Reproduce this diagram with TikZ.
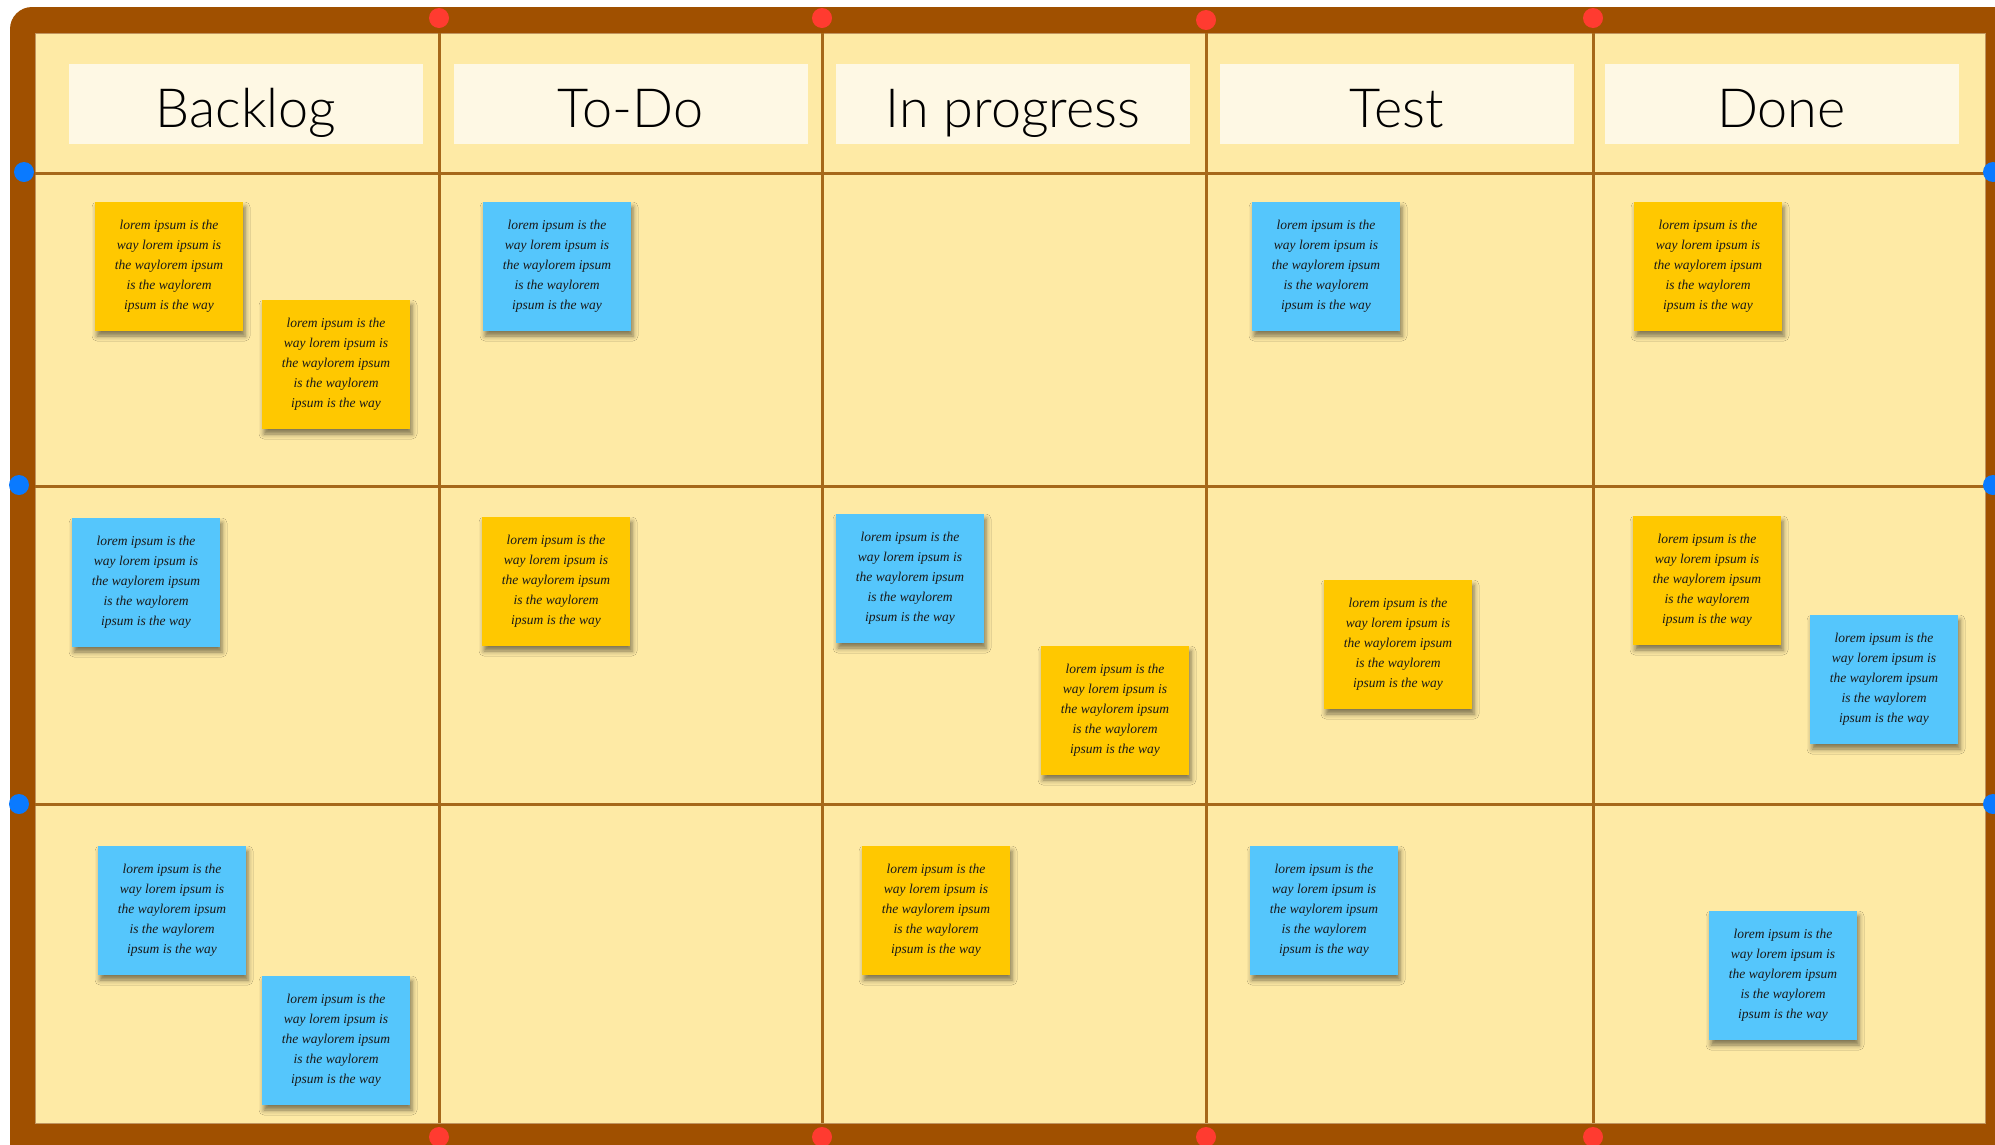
\documentclass[tikz,border=0pt]{standalone}
\usepackage{fontspec}
\newfontfamily\headfont{Lato}[UprightFont=* Light]
\newfontfamily\notefont{Liberation Serif}
\usetikzlibrary{shadows}
\usetikzlibrary{shadows.blur}

\definecolor{frame brown}{RGB}{160,80,0}
\definecolor{board cream}{RGB}{254,234,165}
\definecolor{head cream}{RGB}{254,248,228}
\definecolor{grid brown}{RGB}{166,104,26}
\definecolor{note yellow}{RGB}{255,200,0}
\definecolor{note blue}{RGB}{85,198,252}
\definecolor{pin red}{RGB}{255,59,48}
\definecolor{pin blue}{RGB}{10,122,255}

% The text that goes on every card
\newcommand\loremtext{lorem ipsum is the\\way lorem ipsum is\\the waylorem ipsum\\is the waylorem\\ipsum is the way}

\tikzset{
    % Lines that split the board into columns and rows
    grid line/.style={draw=grid brown, line width=3pt},
%
    % Pale heading card at the top of each column
    column head/.style={
        fill=head cream, inner sep=0, anchor=base,
        minimum width=354pt, text height=63pt, text depth=17pt,
        font=\headfont\fontsize{54}{60}\selectfont},
%
    % A sticky note, coloured by the two styles below
    sticky/.style={
        inner sep=0, align=center,
        minimum width=148pt, minimum height=129pt,
        text=black!90, font=\notefont\fontsize{13.5}{20}\selectfont\itshape,
        blur shadow={shadow xshift=2pt, shadow yshift=-5pt,
            shadow blur radius=5pt, shadow opacity=50}},
    yellow note/.style={sticky, fill=note yellow},
    blue note/.style={sticky, fill=note blue}}

\begin{document}
\begin{tikzpicture}[x=1pt, y=-1pt]
\useasboundingbox (0,0) rectangle (1995,1144);
\clip (0,0) rectangle (1995,1144);

% Brown frame with the board inside it
\fill[frame brown, rounded corners=22pt] (10,7) rectangle (2040,1180);
\fill[board cream, draw=grid brown!70, line width=1pt] (35,33) rectangle (1985,1123);

% Columns and rows
\foreach \x in {439,822,1206,1593}
    \draw[grid line] (\x,33) -- (\x,1123);
\foreach \y in {173,486,804}
    \draw[grid line] (35,\y) -- (1985,\y);

% Pins on the frame
\foreach \x/\yt in {439/18, 822/18, 1206/20, 1593/18}
    {\fill[pin red] (\x,\yt) circle (10pt);
     \fill[pin red] (\x,1137) circle (10pt);}
\foreach \y/\xl in {172/24, 485/19, 804/19}
    {\fill[pin blue] (\xl,\y) circle (10pt);
     \fill[pin blue] (1993,\y) circle (10pt);}

% Column headings
\node[column head] (backlog head) at (246,127) {Backlog};
\node[column head] (todo head) at (630.5,127) {To-Do};
\node[column head] (progress head) at (1013,127) {In progress};
\node[column head] (test head) at (1396.5,127) {Test};
\node[column head] (done head) at (1781.5,127) {Done};

% First row of notes
\node[yellow note] (backlog note a) at (169,266.5) {\loremtext};
\node[yellow note] (backlog note b) at (336,364.5) {\loremtext};
\node[blue note] (todo note a) at (557,266.5) {\loremtext};
\node[blue note] (test note a) at (1326,266.5) {\loremtext};
\node[yellow note] (done note a) at (1708,266.5) {\loremtext};

% Second row
\node[blue note] (backlog note c) at (146,582.5) {\loremtext};
\node[yellow note] (todo note b) at (556,581.5) {\loremtext};
\node[blue note] (progress note a) at (910,578.5) {\loremtext};
\node[yellow note] (progress note b) at (1115,710.5) {\loremtext};
\node[yellow note] (test note b) at (1398,644.5) {\loremtext};
\node[yellow note] (done note b) at (1707,580.5) {\loremtext};
\node[blue note] (done note c) at (1884,679.5) {\loremtext};

% Third row
\node[blue note] (backlog note d) at (172,910.5) {\loremtext};
\node[blue note] (backlog note e) at (336,1040.5) {\loremtext};
\node[yellow note] (progress note c) at (936,910.5) {\loremtext};
\node[blue note] (test note c) at (1324,910.5) {\loremtext};
\node[blue note] (done note d) at (1783,975.5) {\loremtext};

\end{tikzpicture}
\end{document}
